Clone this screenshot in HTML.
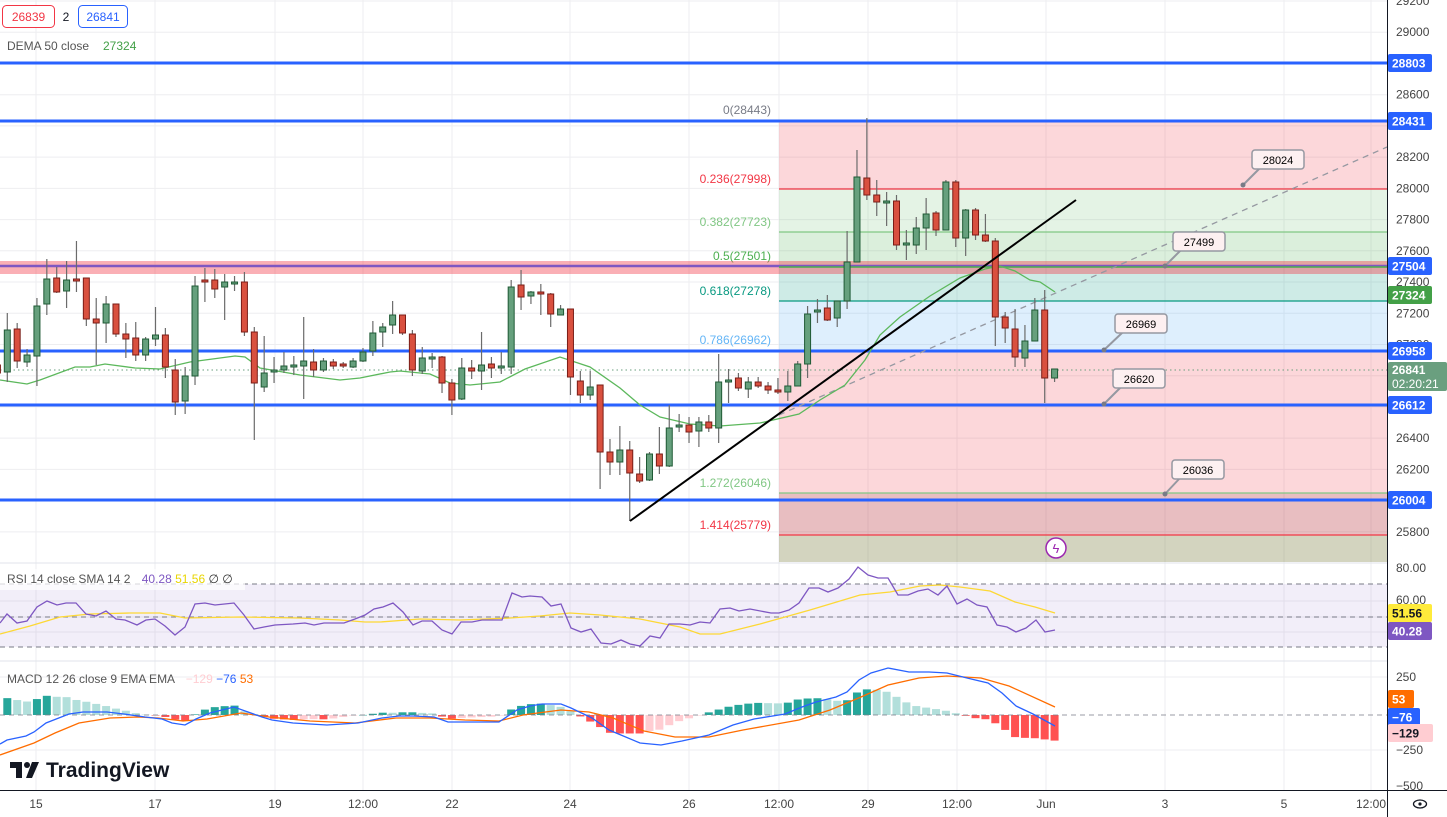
<!DOCTYPE html>
<html><head><meta charset="utf-8"><style>
html,body{margin:0;padding:0;background:#fff;width:1447px;height:817px;overflow:hidden;font-family:"Liberation Sans",sans-serif}
svg{position:absolute;left:0;top:0}
</style></head><body>
<svg id="s" width="1447" height="817" viewBox="0 0 1447 817" xmlns="http://www.w3.org/2000/svg" font-family="Liberation Sans, sans-serif"></svg>
<script>
const S=document.getElementById('s');let h='';
const Y=p=>63+(28803-p)*0.15612;
const X=n=>7.3+(n-2)*9.88;
// grid
const vx=[36,155,275,363,452,570,689,779,868,957,1046,1165,1284,1371];
for(let p=25800;p<=29200;p+=200){const y=Y(p);h+=`<line x1="0" x2="1387" y1="${y}" y2="${y}" stroke="#eeeef0"/>`;}
[601,617,632,677,750].forEach(y=>h+=`<line x1="0" x2="1387" y1="${y}" y2="${y}" stroke="#eeeef0"/>`);
vx.forEach(x=>h+=`<line x1="${x}" x2="${x}" y1="0" y2="790" stroke="#eeeef0"/>`);
// fib zones
const fz=[[121,189,'rgba(242,54,69,0.2)'],[189,232,'rgba(76,175,80,0.15)'],[232,267,'rgba(76,175,80,0.2)'],[267,301,'rgba(8,153,129,0.2)'],[301,351,'rgba(33,150,243,0.15)'],[351,493,'rgba(242,54,69,0.2)'],[493,535,'rgba(178,40,51,0.3)'],[535,562,'rgba(120,123,60,0.33)']];
fz.forEach(z=>h+=`<rect x="779" y="${z[0]}" width="608" height="${z[1]-z[0]}" fill="${z[2]}"/>`);
[[121,'#787b86'],[189,'#f23645'],[232,'#81c784'],[267,'#4caf50'],[301,'#089981'],[351,'#64b5f6'],[493,'#81c784'],[535,'#f23645']].forEach(l=>h+=`<line x1="779" x2="1387" y1="${l[0]}" y2="${l[0]}" stroke="${l[1]}" stroke-width="1.2"/>`);
const fl=[[114,'0(28443)','#787b86'],[183,'0.236(27998)','#f23645'],[226,'0.382(27723)','#81c784'],[260,'0.5(27501)','#4caf50'],[295,'0.618(27278)','#089981'],[344,'0.786(26962)','#64b5f6'],[487,'1.272(26046)','#81c784'],[529,'1.414(25779)','#f23645']];
fl.forEach(l=>h+=`<text x="771" y="${l[0]}" font-size="12" fill="${l[2]}" text-anchor="end">${l[1]}</text>`);
// pink band
h+=`<rect x="0" y="261" width="1387" height="13" fill="rgba(242,54,69,0.4)"/>`;
h+=`<line x1="0" x2="1387" y1="266" y2="266" stroke="#7e57c2" stroke-width="2.5"/>`;
h+=`<line x1="779" x2="1387" y1="267" y2="267" stroke="#4caf50" stroke-width="1.5"/>`;
[63,121,351,405,500].forEach(y=>h+=`<line x1="0" x2="1387" y1="${y}" y2="${y}" stroke="#2962ff" stroke-width="3"/>`);
// dotted price line
h+=`<line x1="0" x2="1387" y1="370" y2="370" stroke="#6a9f7f" stroke-dasharray="1.5,3"/>`;
// dashed trend
h+=`<line x1="779" y1="415" x2="1387" y2="147" stroke="#9598a1" stroke-dasharray="6,5" stroke-width="1.3"/>`;
// DEMA
const dema=[[0,380],[27,384],[40,380],[75,367],[90,367],[105,364],[135,368],[160,369],[190,362],[235,356],[245,357],[260,368],[300,375],[340,380],[360,378],[390,372],[400,371],[420,373],[430,374],[450,383],[470,385],[500,382],[525,369],[560,357],[590,367],[620,388],[640,405],[660,417],[690,424],[720,426],[760,423],[799,414],[820,400],[845,385],[865,360],[880,335],[900,317],[930,296],[960,278],[985,269],[1000,266],[1015,271],[1030,280],[1040,282],[1055,292]];
h+=`<polyline points="${dema.map(p=>p.join(',')).join(' ')}" fill="none" stroke="#5cb85c" stroke-width="1.3"/>`;
// candles
const C=[[365,373,360,380,0],[330,372,313,382,1],[329,361,323,368,0],[355,362,349,367,1],[306,356,298,386,1],[279,304,259,315,1],[278,292,267,293,0],[280,291,261,308,1],[279,281,241,292,0],[278,319,278,326,0],[319,323,298,365,0],[304,323,296,343,1],[304,334,304,337,0],[334,339,323,358,0],[338,355,322,361,0],[339,355,337,361,1],[335,339,307,346,1],[335,367,328,378,0],[370,402,359,415,0],[376,401,367,414,1],[286,376,276,385,1],[280,282,268,302,0],[280,289,269,298,0],[282,287,274,320,1],[282,284,276,291,1],[282,332,272,336,0],[332,383,327,440,0],[373,387,336,392,1],[370,372,357,383,1],[366,370,352,373,1],[365,367,356,375,1],[361,366,317,399,1],[362,370,349,377,0],[361,370,358,372,1],[362,366,359,369,0],[364,366,362,368,0],[361,367,358,368,1],[352,361,348,362,1],[333,351,321,356,1],[327,332,323,347,1],[315,325,301,334,1],[315,333,315,335,0],[334,370,330,376,0],[358,371,347,374,1],[357,359,353,368,1],[357,383,356,393,0],[383,400,379,415,0],[368,399,358,400,1],[368,371,360,379,0],[365,371,332,390,1],[364,368,357,378,0],[366,368,352,374,1],[287,367,280,374,1],[285,297,270,310,0],[292,296,291,304,1],[292,294,284,315,0],[294,314,293,327,0],[309,315,305,315,1],[309,377,309,395,0],[381,395,371,403,0],[387,395,371,400,1],[385,452,385,489,0],[452,462,439,475,0],[450,462,426,475,1],[450,473,441,521,0],[474,481,457,483,0],[454,480,452,481,1],[454,466,427,474,0],[428,466,405,467,1],[425,427,414,432,1],[425,432,417,443,0],[422,431,417,447,1],[422,428,415,432,0],[382,428,354,443,1],[380,382,369,403,1],[378,388,373,391,0],[382,389,377,398,1],[382,386,377,388,0],[386,390,382,394,0],[390,392,378,394,0],[386,392,371,401,1],[364,386,361,386,1],[314,364,306,378,1],[310,312,299,323,1],[308,320,295,321,0],[301,318,301,327,1],[262,301,231,309,1],[177,262,150,262,1],[178,195,118,200,0],[195,202,180,216,0],[201,203,192,226,1],[201,245,195,250,0],[243,245,230,260,1],[228,245,217,254,1],[214,228,198,250,1],[213,230,211,236,0],[182,230,180,230,1],[182,238,180,247,0],[210,238,209,256,1],[210,235,208,240,0],[235,241,214,242,0],[241,317,238,346,0],[317,328,312,343,0],[329,357,309,367,0],[341,358,325,367,1],[310,341,298,341,1],[310,378,290,403,0],[369,378,369,382,1]];
C.forEach((c,i)=>{const x=X(i+1);const f=c[4]?'#66a07d':'#d9503f',st=c[4]?'#1f5a35':'#7a1d17';
h+=`<line x1="${x}" x2="${x}" y1="${c[2]}" y2="${c[3]}" stroke="#6b6b6b" stroke-width="1.2"/>`;
h+=`<rect x="${x-3}" y="${c[0]}" width="6" height="${Math.max(c[1]-c[0],1.5)}" fill="${f}" stroke="${st}" stroke-width="1"/>`;});
// black trend
h+=`<line x1="630" y1="521" x2="1076" y2="200" stroke="#000" stroke-width="2"/>`;
// callouts
const co=[[1252,150,'28024',1243,185],[1173,232,'27499',1165,266],[1115,314,'26969',1104,350],[1113,369,'26620',1104,404],[1172,460,'26036',1165,494]];
co.forEach(c=>{h+=`<line x1="${c[0]+8}" y1="${c[1]+18}" x2="${c[3]}" y2="${c[4]}" stroke="#9598a1" stroke-width="2"/><circle cx="${c[3]}" cy="${c[4]}" r="2.5" fill="#787b86"/><rect x="${c[0]}" y="${c[1]}" width="52" height="19" rx="3" fill="#fdf0f1" stroke="#9598a1" stroke-width="1.5"/><text x="${c[0]+26}" y="${c[1]+14}" font-size="11" text-anchor="middle" fill="#000">${c[2]}</text>`;});
// lightning
h+=`<circle cx="1056" cy="548" r="10" fill="#fff" stroke="#9c27b0" stroke-width="1.5"/><text x="1056" y="553" font-size="13" text-anchor="middle" fill="#9c27b0">ϟ</text>`;
// panel separators
h+=`<line x1="0" x2="1387" y1="563" y2="563" stroke="#e0e3eb"/><line x1="0" x2="1387" y1="661" y2="661" stroke="#e0e3eb"/>`;
// RSI
h+=`<rect x="0" y="584" width="1387" height="63" fill="rgba(126,87,194,0.1)"/>`;
[584,617,647].forEach(y=>h+=`<line x1="0" x2="1387" y1="${y}" y2="${y}" stroke="#787b86" stroke-dasharray="5,4"/>`);
const rsi=[[0,623],[7,614],[17,623],[27,621],[37,607],[47,601],[57,605],[66,603],[76,603],[86,614],[96,616],[106,611],[116,619],[125,620],[137,625],[146,620],[155,619],[165,626],[175,635],[185,627],[195,604],[205,603],[215,605],[234,603],[244,615],[254,629],[264,627],[275,625],[293,624],[305,623],[314,625],[324,623],[334,623],[344,623],[355,619],[365,615],[374,609],[383,607],[393,603],[403,612],[413,625],[422,621],[432,621],[442,630],[452,634],[461,622],[472,622],[482,620],[502,620],[512,593],[522,597],[530,596],[542,597],[551,606],[561,604],[571,628],[581,632],[591,629],[601,643],[611,644],[621,640],[630,644],[640,646],[650,636],[660,638],[669,624],[680,624],[690,625],[700,622],[710,623],[720,609],[730,608],[739,611],[750,609],[771,613],[779,613],[789,610],[799,603],[809,588],[819,588],[828,592],[838,588],[849,579],[858,567],[868,575],[878,578],[888,578],[898,595],[908,595],[918,591],[928,589],[938,595],[947,586],[957,604],[967,599],[977,605],[987,607],[997,625],[1007,627],[1016,632],[1026,628],[1036,620],[1045,632],[1055,630]];
const sma=[[0,634],[30,626],[60,617],[90,614],[130,613],[160,613],[185,618],[240,617],[300,618],[340,620],[365,622],[380,622],[420,619],[460,620],[510,618],[540,616],[570,613],[600,615],[640,619],[680,627],[700,634],[720,634],[760,624],[810,610],[860,595],[890,592],[920,586],[940,585],[960,587],[990,591],[1015,602],[1035,607],[1055,613]];
h+=`<polyline points="${sma.map(p=>p.join(',')).join(' ')}" fill="none" stroke="#fdd835" stroke-width="1.3"/>`;
h+=`<polyline points="${rsi.map(p=>p.join(',')).join(' ')}" fill="none" stroke="#7e57c2" stroke-width="1.3"/>`;
// MACD
const bl=[[0,744],[7,740],[26,736],[34,732],[46,723],[69,714],[83,712],[107,712],[124,714],[145,717],[162,719],[172,723],[185,725],[196,719],[210,713],[234,707],[248,712],[262,717],[272,720],[293,723],[327,725],[358,723],[382,718],[399,716],[413,716],[434,717],[448,722],[465,722],[499,722],[517,710],[530,706],[542,704],[561,704],[571,708],[592,718],[609,730],[640,743],[661,745],[682,741],[709,735],[733,725],[754,719],[785,714],[802,707],[816,702],[836,697],[847,692],[859,680],[871,673],[888,668],[909,672],[929,672],[947,673],[967,678],[988,683],[1002,693],[1016,706],[1033,714],[1055,726]];
const or=[[0,755],[34,743],[55,733],[79,723],[110,718],[138,717],[158,718],[183,721],[207,719],[241,713],[269,717],[310,721],[355,723],[396,718],[430,718],[465,720],[499,721],[523,715],[530,714],[561,710],[589,712],[613,718],[644,731],[675,737],[709,737],[743,730],[799,720],[830,710],[861,697],[888,685],[919,678],[947,676],[981,678],[1009,686],[1055,707]];
const itp=(a,x)=>{for(let i=1;i<a.length;i++){if(x<=a[i][0]){const t=(x-a[i-1][0])/(a[i][0]-a[i-1][0]);return a[i-1][1]+t*(a[i][1]-a[i-1][1]);}}return a[a.length-1][1];};
let prev=null;
for(let n=1;n<=108;n++){const x=X(n);if(x<0)continue;const v=(itp(or,x)-itp(bl,x))*1.35;let col;
if(v>=0)col=(prev===null||v>=prev)?'#26a69a':'#b2dfdb';else col=(prev===null||v<=prev)?'#ff5252':'#ffcdd2';
prev=v;const y=v>=0?715-v:715;h+=`<rect x="${x-4}" y="${y}" width="8" height="${Math.max(Math.abs(v),0.5)}" fill="${col}"/>`;}
h+=`<line x1="0" x2="1387" y1="715" y2="715" stroke="#787b86" stroke-dasharray="5,4" stroke-width="0.8"/>`;
h+=`<polyline points="${or.map(p=>p.join(',')).join(' ')}" fill="none" stroke="#ff6d00" stroke-width="1.3"/>`;
h+=`<polyline points="${bl.map(p=>p.join(',')).join(' ')}" fill="none" stroke="#2962ff" stroke-width="1.3"/>`;
// legends
h+=`<rect x="0" y="569" width="245" height="21" fill="rgba(255,255,255,0.7)"/>`;
h+=`<text x="7" y="583" font-size="12" fill="#555">RSI 14 close SMA 14 2 <tspan dx="8" fill="#7e57c2">40.28</tspan> <tspan fill="#e8d500">51.56</tspan> <tspan fill="#333">∅ ∅</tspan></text>`;
h+=`<text x="7" y="683" font-size="12" fill="#555">MACD 12 26 close 9 EMA EMA <tspan dx="8" fill="#ffcdd2">−129</tspan> <tspan fill="#2962ff">−76</tspan> <tspan fill="#ff6d00">53</tspan></text>`;
h+=`<rect x="2.5" y="5.5" width="52" height="22" rx="4" fill="#fff" stroke="#f23645"/><text x="28.5" y="21" font-size="12" text-anchor="middle" fill="#f23645">26839</text><text x="66" y="21" font-size="12" text-anchor="middle" fill="#131722">2</text><rect x="78.5" y="5.5" width="49" height="22" rx="4" fill="#fff" stroke="#2962ff"/><text x="103" y="21" font-size="12" text-anchor="middle" fill="#2962ff">26841</text>`;
h+=`<text x="7" y="50" font-size="12" fill="#555">DEMA 50 close</text><text x="103" y="50" font-size="12" fill="#43a047">27324</text>`;
// TV logo
h+=`<path d="M10 762h12v16h-6v-10h-6z" fill="#131722"/><circle cx="27" cy="765" r="3" fill="#131722"/><path d="M32 762h7l-7 16h-6z" fill="#131722"/>`;
h+=`<text x="46" y="777" font-size="21" font-weight="bold" fill="#131722">TradingView</text>`;
// axes
h+=`<rect x="1388" y="0" width="59" height="817" fill="#fff"/><line x1="1387.5" x2="1387.5" y1="0" y2="817" stroke="#131722"/>`;
h+=`<line x1="0" x2="1447" y1="790.5" y2="790.5" stroke="#131722"/>`;
[29200,29000,28600,28200,28000,27800,27600,27400,27200,27000,26400,26200,25800].forEach(p=>h+=`<text x="1396" y="${Y(p)+4}" font-size="12" fill="#444">${p}</text>`);
[[568,'80.00'],[600,'60.00'],[677,'250'],[750,'−250'],[786,'−500']].forEach(t=>h+=`<text x="1396" y="${t[0]+4}" font-size="12" fill="#444">${t[1]}</text>`);
const lab=(y,t,bg,fg,w)=>{h+=`<rect x="1388" y="${y-9}" width="${w||44}" height="18" rx="2" fill="${bg}"/><text x="1392" y="${y+4.5}" font-size="12" font-weight="bold" fill="${fg}">${t}</text>`;};
lab(63,'28803','#2962ff','#fff');lab(121,'28431','#2962ff','#fff');lab(266,'27504','#2962ff','#fff');lab(295,'27324','#43a047','#fff');lab(351,'26958','#2962ff','#fff');lab(405,'26612','#2962ff','#fff');lab(500,'26004','#2962ff','#fff');
h+=`<rect x="1388" y="362" width="59" height="29" rx="2" fill="#6a9f7f"/><text x="1392" y="374" font-size="12" font-weight="bold" fill="#fff">26841</text><text x="1392" y="388" font-size="12" fill="#fff">02:20:21</text>`;
lab(613,'51.56','#ffeb3b','#131722');lab(631,'40.28','#7e57c2','#fff');
lab(699,'53','#ff6d00','#fff',26);lab(717,'−76','#2962ff','#fff',32);lab(733,'−129','#ffcdd2','#131722',45);
const tl=[[36,'15'],[155,'17'],[275,'19'],[363,'12:00'],[452,'22'],[570,'24'],[689,'26'],[779,'12:00'],[868,'29'],[957,'12:00'],[1046,'Jun'],[1165,'3'],[1284,'5'],[1371,'12:00']];
tl.forEach(t=>h+=`<text x="${t[0]}" y="808" font-size="12" fill="#444" text-anchor="middle">${t[1]}</text>`);
h+=`<ellipse cx="1420" cy="804" rx="6.5" ry="4" fill="none" stroke="#131722" stroke-width="1.3"/><circle cx="1420" cy="804" r="1.6" fill="#131722"/>`;
S.innerHTML=h;
</script>
</body></html>
